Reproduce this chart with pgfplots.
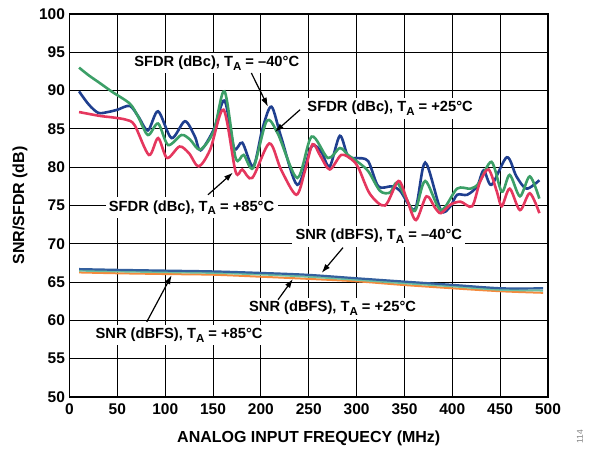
\documentclass[border=0pt]{standalone}
\usepackage{fontspec}
\setmainfont{Liberation Sans}
\usepackage{pgfplots}
\pgfplotsset{compat=1.18}
\usetikzlibrary{arrows.meta}

\definecolor{sfdrblue}{HTML}{1F3F8F}
\definecolor{sfdrgreen}{HTML}{3C9F67}
\definecolor{sfdrred}{HTML}{E5375E}
\definecolor{snrblue}{HTML}{34609E}
\definecolor{snrgreen}{HTML}{6DBFA0}
\definecolor{snrorange}{HTML}{F58A3C}

\newcommand\TA{T\raisebox{-0.45ex}{\fontsize{11.5}{11.5}\selectfont A}}

\begin{document}
\begin{tikzpicture}[font=\fontsize{14.7}{16}\selectfont\bfseries]
\path[use as bounding box] (-69.5pt,-55pt) rectangle (519.5pt,397pt);
\begin{axis}[
    scale only axis,
    width=478.5pt, height=383pt,
    xmin=0, xmax=500, ymin=50, ymax=100,
    xtick distance=50, ytick distance=5,
    grid=major,
    grid style={black, line width=0.9pt},
    axis line style={black, line width=1.6pt},
    major tick length=0pt,
    tick label style={font=\fontsize{15.5}{17}\selectfont\bfseries},
    /pgf/number format/assume math mode=true,
    xticklabel style={yshift=-3pt},
    yticklabel style={xshift=-1pt},
    smooth, tension=0.5,
    every node/.style={inner sep=1.5pt},
]
% SNR (dBFS)
\addplot[snrorange, line width=2pt, no markers] coordinates {
 (10,66.26) (50,66.15) (100,66.05) (150,65.96) (200,65.7) (248,65.43)
 (300,65.1) (346,64.65) (399,64.2) (451,63.8) (495,63.6)};
\addplot[snrgreen, line width=2pt, no markers] coordinates {
 (10,66.5) (50,66.4) (100,66.3) (150,66.2) (200,66.0) (250,65.7)
 (300,65.3) (350,64.85) (400,64.45) (450,64.0) (495,63.9)};
\addplot[snrblue, line width=2.2pt, no markers] coordinates {
 (10,66.7) (50,66.6) (100,66.5) (150,66.4) (200,66.2) (248,65.96)
 (300,65.5) (346,65.1) (399,64.65) (451,64.2) (495,64.2)};

% SFDR (dBc), -40 C
\addplot[sfdrblue, line width=2.6pt, no markers] coordinates {
 (10,89.9) (20,88.2) (30,87.1) (40,87.2) (50,87.5) (63,88.0) (72,86.6)
 (82,84.8) (92.6,87.3) (106.6,83.8) (120.6,86.0) (131,84.0) (137,82.2)
 (150.7,84.9) (162,88.7) (172,82.5) (180.6,83.2) (192,80.1) (201.8,85.1)
 (211,87.9) (221,84.0) (238,77.7) (252,82.5) (258,82.7) (264,81.8)
 (272,80.1) (282.5,84.1) (291,81.4) (300,81.2) (312,80.8) (322.7,77.5)
 (336.7,77.5) (345.5,76.9) (361,74.5) (371.7,80.6) (388,74.4) (398,74.9)
 (405,76.4) (415.5,76.4) (426,77.5) (432.8,79.6) (441,77.7) (457,81.3)
 (467,78.8) (477.6,77.2) (491,78.3)};
% SFDR (dBc), +25 C
\addplot[sfdrgreen, line width=2.6pt, no markers] coordinates {
 (10,93.0) (20,92.0) (31.5,91.0) (45,89.8) (63,88.3) (71.7,86.6)
 (82,84.2) (92.6,85.7) (103,82.9) (117,84.2) (126,83.6) (136.6,82.3)
 (150.7,84.7) (162,89.9) (173.6,81.2) (182,81.6) (192,79.9) (206,86.0)
 (217.6,84.4) (238,78.6) (253,84.0) (270,81.2) (282.5,82.5) (291,81.6)
 (300,80.8) (312,79.5) (324.5,76.9) (335,76.7) (342,78.0) (350.7,76.2)
 (361,74.3) (371.7,78.2) (388,74.4) (405,77.2) (419,77.2) (427.6,77.9)
 (441,80.7) (451.7,76.8) (460,79.0) (470.7,76.2) (481,78.8) (491,75.9)};
% SFDR (dBc), +85 C
\addplot[sfdrred, line width=2.6pt, no markers] coordinates {
 (10,87.2) (31.5,86.7) (45,86.5) (59,86.2) (68,85.5) (83,81.6)
 (92.6,83.8) (102,81.2) (115,82.7) (125,81.8) (135,80.1) (147,82.3)
 (161,87.5) (173.6,79.4) (180.6,79.7) (191,78.6) (208.8,83.1) (221,79.7)
 (237,76.4) (246,79.5) (254,83.0) (262,81.5) (272,79.7) (284,81.6)
 (295,81.0) (302,79.9) (314,76.5) (329.7,75.0) (343.7,78.2) (352.5,75.8)
 (362,73.1) (373,76.2) (382,74.7) (388,74.0) (398,75.1) (408.6,75.5)
 (420.7,74.9) (429,78.1) (438,79.7) (446.6,76.8) (451.7,74.9) (460,77.2)
 (470.7,74.4) (481,76.6) (491,74.0)};

% annotations
\node[fill=white, anchor=west] at (axis cs:64,93.6) {SFDR (dBc), \TA{} = –40°C};
\node[fill=white, anchor=west] at (axis cs:245,87.7) {SFDR (dBc), \TA{} = +25°C};
\node[fill=white, anchor=west] at (axis cs:37.5,74.7) {SFDR (dBc), \TA{} = +85°C};
\node[fill=white, anchor=west] at (axis cs:232.5,71.0) {SNR (dBFS), \TA{} = –40°C};
\node[fill=white, anchor=west] at (axis cs:184,61.6) {SNR (dBFS), \TA{} = +25°C};
\node[fill=white, anchor=west] at (axis cs:23.6,58.1) {SNR (dBFS), \TA{} = +85°C};
\draw[-{Latex[length=9pt,width=6pt]}, line width=1.2pt] (axis cs:190,92.3) -- (axis cs:207.4,87.9);
\draw[-{Latex[length=9pt,width=6pt]}, line width=1.2pt] (axis cs:240.9,87.5) -- (axis cs:214.7,84.6);
\draw[-{Latex[length=9pt,width=6pt]}, line width=1.2pt] (axis cs:144.7,76.4) -- (axis cs:170.8,79.3);
\draw[-{Latex[length=9pt,width=6pt]}, line width=1.2pt] (axis cs:285.8,69.5) -- (axis cs:263.5,66.2);
\draw[-{Latex[length=9pt,width=6pt]}, line width=1.2pt] (axis cs:217.9,62.7) -- (axis cs:233.5,65.4);
\draw[-{Latex[length=9pt,width=6pt]}, line width=1.2pt] (axis cs:80.7,59.8) -- (axis cs:106.8,65.9);
\end{axis}
\node[rotate=90, font=\fontsize{16}{18}\selectfont\bfseries] at (-49.5pt,191.5pt) {SNR/SFDR (dB)};
\node[font=\fontsize{16}{18}\selectfont\bfseries] at (239.25pt,-41pt) {ANALOG INPUT FREQUECY (MHz)};
\node[rotate=90, text=gray, font=\fontsize{8.5}{9}\selectfont] at (510.5pt,-40pt) {114};
\end{tikzpicture}
\end{document}
